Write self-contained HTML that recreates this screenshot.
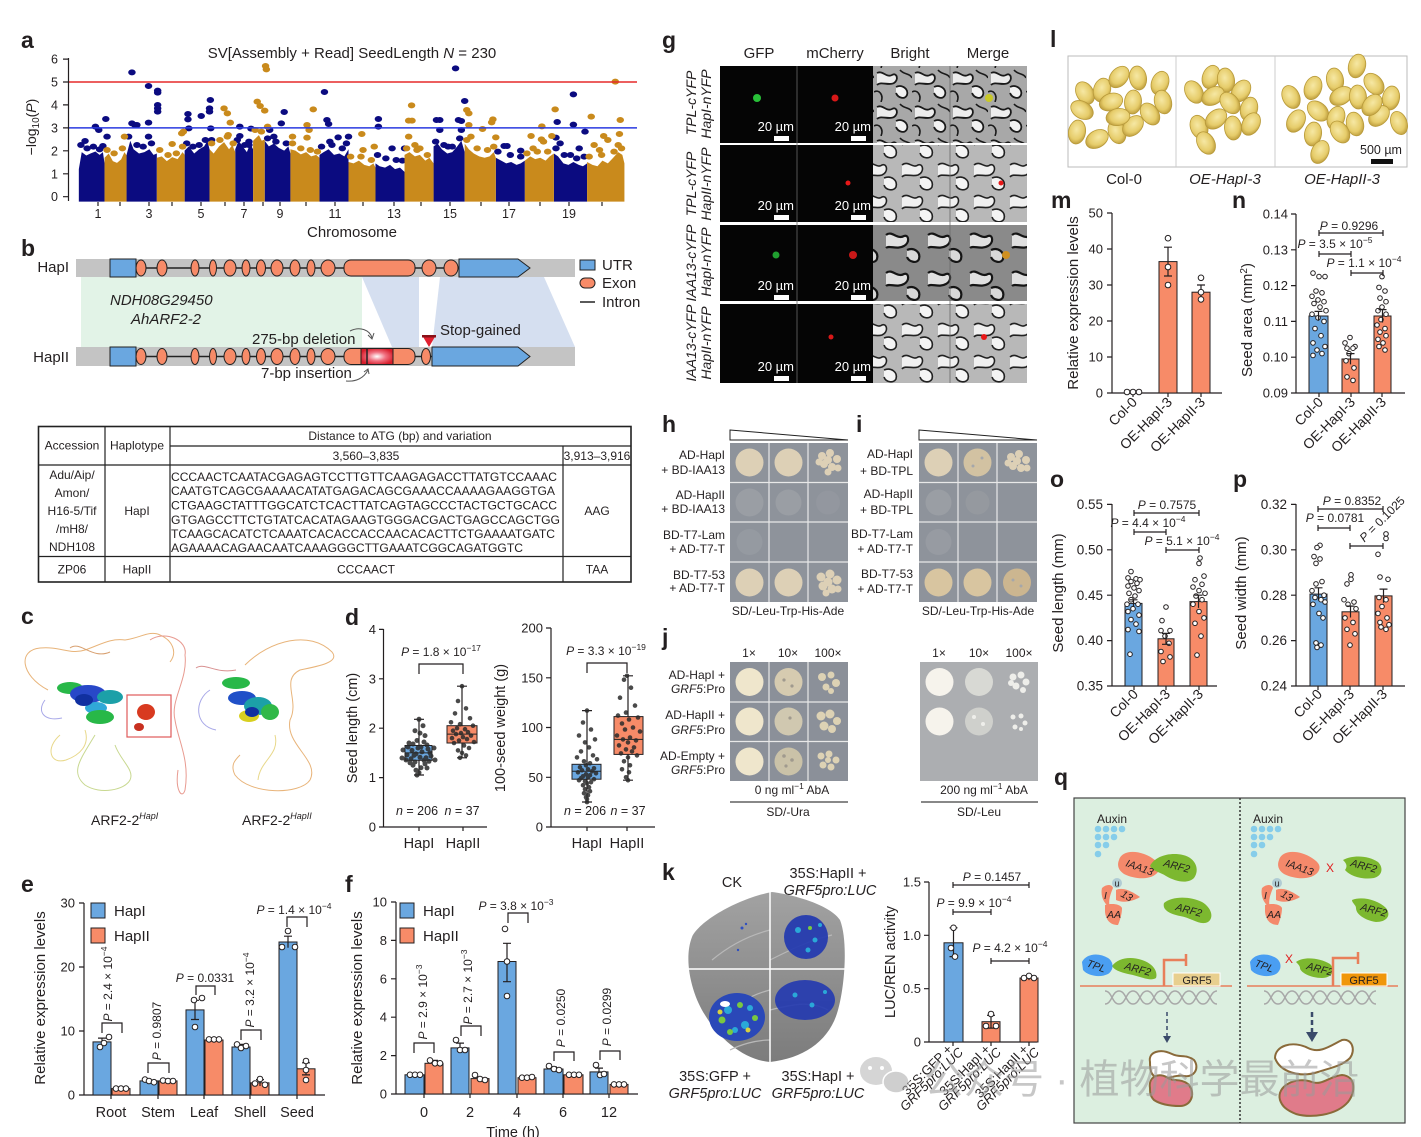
<!DOCTYPE html>
<html><head><meta charset="utf-8"><style>
html,body{margin:0;padding:0;background:#fff}
svg{display:block}
text{font-family:"Liberation Sans","Noto Sans CJK SC",sans-serif}
.L{font-size:23px;font-weight:bold}
.ax{stroke:#231f20;stroke-width:1.2;fill:none}
.pt{fill:#fff;stroke:#231f20;stroke-width:1}
.bb{fill:#6aa7e0;stroke:#231f20;stroke-width:1}
.ob{fill:#f78b68;stroke:#231f20;stroke-width:1}
.dk{fill:#2b2b2b;opacity:.85}
.it{font-style:italic}
</style></head><body>
<svg width="1421" height="1137" viewBox="0 0 1421 1137" xmlns="http://www.w3.org/2000/svg" fill="#231f20">
<defs>
<pattern id="pc" width="38" height="34" patternUnits="userSpaceOnUse">
<rect width="38" height="34" fill="#a8a8a8"/>
<path d="M3,5 C9,2 12,10 18,7 C23,4 25,12 20,15 C15,18 7,13 3,17 Z" fill="#ececec"/>
<path d="M22,19 C28,16 35,21 33,27 C31,32 24,30 22,25 Z" fill="#f2f2f2"/>
<path d="M3,5 C9,2 12,10 18,7 C23,4 25,12 20,15 C15,18 7,13 3,17 M22,19 C28,16 35,21 33,27 C31,32 24,30 22,25" fill="none" stroke="#1a1a1a" stroke-width="1.8"/>
<path d="M0,24 C5,21 10,27 7,34 M26,2 C30,7 36,5 38,10" fill="none" stroke="#1a1a1a" stroke-width="1.6"/>
</pattern>
<pattern id="pc2" width="42" height="38" patternUnits="userSpaceOnUse">
<rect width="42" height="38" fill="#8a8a8a"/>
<path d="M4,7 C10,2 15,12 22,8 C27,6 28,15 22,18 C15,22 7,17 4,20 Z" fill="#e0e0e0"/>
<path d="M25,22 C32,19 39,24 37,31 C35,36 27,34 25,29 Z" fill="#d8d8d8"/>
<path d="M4,7 C10,2 15,12 22,8 C27,6 28,15 22,18 C15,22 7,17 4,20 M25,22 C32,19 39,24 37,31 C35,36 27,34 25,29" fill="none" stroke="#151515" stroke-width="2.2"/>
</pattern>
<pattern id="pc3" width="36" height="32" patternUnits="userSpaceOnUse">
<rect width="36" height="32" fill="#b8b8b8"/>
<path d="M2,5 C8,0 13,9 18,5 C23,3 25,12 18,15 C12,17 5,13 2,17 Z" fill="#f0f0f0"/>
<path d="M20,18 C27,15 34,20 32,27 C30,31 22,31 20,25 Z" fill="#f4f4f4"/>
<path d="M2,5 C8,0 13,9 18,5 C23,3 25,12 18,15 C12,17 5,13 2,17 M20,18 C27,15 34,20 32,27 C30,31 22,31 20,25" fill="none" stroke="#222" stroke-width="1.6"/>
</pattern>
<radialGradient id="sg" cx="45%" cy="40%" r="60%"><stop offset="0" stop-color="#f6e8a4"/><stop offset=".7" stop-color="#e6cc6a"/><stop offset="1" stop-color="#c0a040"/></radialGradient>
<radialGradient id="rg" cx="50%" cy="50%" r="55%"><stop offset="0" stop-color="#fff"/><stop offset=".5" stop-color="#f07080"/><stop offset="1" stop-color="#d81c2a"/></radialGradient>
<linearGradient id="lf" x1="0" y1="0" x2="0" y2="1"><stop offset="0" stop-color="#a2a2a2"/><stop offset="1" stop-color="#7c7c7c"/></linearGradient>
</defs>
<rect width="1421" height="1137" fill="#fff"/>

<!-- ============ PANEL A ============ -->
<text class="L" x="21" y="48">a</text>
<text x="352" y="58" font-size="15" text-anchor="middle">SV[Assembly + Read] SeedLength <tspan class="it">N</tspan> = 230</text>
<g transform="translate(0,30) scale(0.4149,0.3333)">
<g fill="#0b0b80">
<g transform="translate(0,515) scale(1,0.85) translate(0,-515)">
<polygon points="190,515 190,400 197,340 208,352 218,345 230,338 240,350 248,340 252,380 252,515"/>
<polygon points="305,515 305,350 314,300 322,330 335,345 348,340 360,330 370,350 378,345 378,515"/>
<polygon points="445,515 445,335 455,320 468,345 480,330 492,320 500,300 505,330 505,515"/>
<polygon points="567,515 567,330 575,300 585,320 595,340 603,310 610,330 610,515"/>
<polygon points="638,515 638,300 648,320 660,310 672,325 685,335 695,320 700,345 700,515"/>
<polygon points="770,515 770,350 780,340 792,330 805,350 818,345 830,355 840,330 840,515"/>
<polygon points="905,515 905,380 915,390 928,395 940,385 952,400 964,395 975,410 975,515"/>
<polygon points="1045,515 1045,320 1055,310 1065,330 1078,345 1090,340 1102,320 1112,300 1120,340 1120,515"/>
<polygon points="1195,515 1195,360 1208,370 1220,380 1232,375 1245,385 1255,380 1265,370 1265,515"/>
<polygon points="1335,515 1335,345 1345,355 1358,380 1370,385 1382,375 1395,385 1405,390 1415,380 1415,515"/>
</g>
<circle cx="195" cy="345" r="9"/><circle cx="210" cy="355" r="9"/><circle cx="225" cy="350" r="9"/><circle cx="240" cy="358" r="9"/><circle cx="248" cy="348" r="9"/>
<circle cx="310" cy="320" r="9"/><circle cx="330" cy="345" r="9"/><circle cx="345" cy="350" r="9"/><circle cx="365" cy="340" r="9"/>
<circle cx="450" cy="340" r="9"/><circle cx="465" cy="350" r="9"/><circle cx="480" cy="345" r="9"/><circle cx="495" cy="330" r="9"/>
<circle cx="572" cy="330" r="9"/><circle cx="590" cy="345" r="9"/><circle cx="600" cy="335" r="9"/>
<circle cx="645" cy="325" r="9"/><circle cx="665" cy="335" r="9"/><circle cx="690" cy="340" r="9"/>
<circle cx="775" cy="350" r="9"/><circle cx="800" cy="345" r="9"/><circle cx="825" cy="355" r="9"/><circle cx="835" cy="340" r="9"/>
<circle cx="910" cy="375" r="9"/><circle cx="930" cy="385" r="9"/><circle cx="955" cy="390" r="9"/><circle cx="970" cy="392" r="9"/>
<circle cx="1050" cy="335" r="9"/><circle cx="1070" cy="345" r="9"/><circle cx="1090" cy="350" r="9"/><circle cx="1108" cy="325" r="9"/>
<circle cx="1200" cy="365" r="9"/><circle cx="1230" cy="375" r="9"/><circle cx="1255" cy="380" r="9"/>
<circle cx="1340" cy="355" r="9"/><circle cx="1360" cy="375" r="9"/><circle cx="1390" cy="385" r="9"/><circle cx="1408" cy="380" r="9"/>
<circle cx="205" cy="333" r="9"/><circle cx="230" cy="290" r="9"/><circle cx="238" cy="300" r="9"/><circle cx="255" cy="267" r="9"/><circle cx="258" cy="320" r="9"/>
<circle cx="318" cy="127" r="9"/><circle cx="318" cy="280" r="9"/><circle cx="325" cy="285" r="9"/><circle cx="330" cy="285" r="9"/><circle cx="358" cy="168" r="9"/><circle cx="358" cy="278" r="9"/><circle cx="358" cy="320" r="9"/><circle cx="380" cy="182" r="9"/><circle cx="380" cy="188" r="9"/><circle cx="380" cy="225" r="9"/><circle cx="380" cy="235" r="9"/><circle cx="380" cy="245" r="9"/>
<circle cx="453" cy="252" r="9"/><circle cx="453" cy="268" r="9"/><circle cx="455" cy="295" r="9"/><circle cx="485" cy="258" r="9"/><circle cx="507" cy="210" r="9"/><circle cx="505" cy="235" r="9"/><circle cx="505" cy="245" r="9"/><circle cx="508" cy="295" r="9"/><circle cx="510" cy="330" r="9"/>
<circle cx="578" cy="290" r="9"/><circle cx="578" cy="318" r="9"/><circle cx="605" cy="296" r="9"/><circle cx="600" cy="345" r="9"/>
<circle cx="650" cy="300" r="9"/><circle cx="678" cy="280" r="9"/><circle cx="685" cy="246" r="9"/><circle cx="660" cy="320" r="9"/>
<circle cx="782" cy="186" r="9"/><circle cx="788" cy="270" r="9"/><circle cx="792" cy="282" r="9"/><circle cx="795" cy="335" r="9"/><circle cx="815" cy="322" r="9"/><circle cx="840" cy="320" r="9"/>
<circle cx="912" cy="267" r="9"/><circle cx="912" cy="290" r="9"/><circle cx="945" cy="355" r="9"/><circle cx="975" cy="355" r="9"/>
<circle cx="1052" cy="270" r="9"/><circle cx="1060" cy="270" r="9"/><circle cx="1060" cy="300" r="9"/><circle cx="1080" cy="350" r="9"/><circle cx="1098" cy="115" r="9"/><circle cx="1105" cy="270" r="9"/><circle cx="1112" cy="273" r="9"/><circle cx="1120" cy="213" r="9"/><circle cx="1112" cy="300" r="9"/>
<circle cx="1215" cy="348" r="9"/><circle cx="1222" cy="348" r="9"/><circle cx="1255" cy="362" r="9"/>
<circle cx="1343" cy="276" r="9"/><circle cx="1340" cy="323" r="9"/><circle cx="1350" cy="340" r="9"/><circle cx="1382" cy="193" r="9"/><circle cx="1382" cy="284" r="9"/><circle cx="1396" cy="355" r="9"/><circle cx="1410" cy="305" r="9"/><circle cx="1375" cy="375" r="9"/>
</g>
<g fill="#c98a1c">
<g transform="translate(0,515) scale(1,0.85) translate(0,-515)">
<polygon points="252,515 252,360 262,345 272,372 282,378 292,366 300,340 305,352 305,515"/>
<polygon points="378,515 378,360 390,355 402,372 415,358 428,365 440,340 445,350 445,515"/>
<polygon points="505,515 505,330 515,345 528,320 540,305 552,330 560,315 567,340 567,515"/>
<polygon points="610,515 610,300 617,290 624,280 631,300 638,295 638,515"/>
<polygon points="700,515 700,330 712,335 725,348 738,340 750,355 762,350 770,360 770,515"/>
<polygon points="840,515 840,375 852,380 865,370 878,385 890,390 900,380 905,395 905,515"/>
<polygon points="975,515 975,350 987,340 1000,355 1012,350 1025,370 1035,360 1045,380 1045,515"/>
<polygon points="1120,515 1120,310 1130,330 1142,345 1155,355 1168,360 1180,355 1190,340 1195,360 1195,515"/>
<polygon points="1265,515 1265,370 1278,355 1290,365 1302,360 1315,370 1325,355 1335,345 1335,515"/>
<polygon points="1415,515 1415,375 1428,385 1440,390 1452,370 1465,380 1478,360 1490,340 1500,350 1505,380 1505,515"/>
</g>
<circle cx="258" cy="360" r="9"/><circle cx="275" cy="370" r="9"/><circle cx="295" cy="355" r="9"/>
<circle cx="385" cy="360" r="9"/><circle cx="405" cy="375" r="9"/><circle cx="425" cy="370" r="9"/><circle cx="440" cy="350" r="9"/>
<circle cx="510" cy="340" r="9"/><circle cx="530" cy="330" r="9"/><circle cx="548" cy="320" r="9"/><circle cx="562" cy="340" r="9"/>
<circle cx="615" cy="300" r="9"/><circle cx="630" cy="305" r="9"/>
<circle cx="705" cy="340" r="9"/><circle cx="725" cy="355" r="9"/><circle cx="748" cy="360" r="9"/><circle cx="765" cy="365" r="9"/>
<circle cx="845" cy="380" r="9"/><circle cx="870" cy="380" r="9"/><circle cx="895" cy="390" r="9"/>
<circle cx="980" cy="355" r="9"/><circle cx="1005" cy="360" r="9"/><circle cx="1030" cy="375" r="9"/>
<circle cx="1125" cy="330" r="9"/><circle cx="1150" cy="355" r="9"/><circle cx="1175" cy="360" r="9"/><circle cx="1190" cy="350" r="9"/>
<circle cx="1270" cy="370" r="9"/><circle cx="1295" cy="365" r="9"/><circle cx="1320" cy="365" r="9"/>
<circle cx="1420" cy="380" r="9"/><circle cx="1450" cy="375" r="9"/><circle cx="1480" cy="365" r="9"/><circle cx="1498" cy="355" r="9"/>
<circle cx="300" cy="320" r="9"/><circle cx="415" cy="342" r="9"/><circle cx="438" cy="310" r="9"/><circle cx="442" cy="305" r="9"/>
<circle cx="540" cy="235" r="9"/><circle cx="548" cy="250" r="9"/><circle cx="555" cy="278" r="9"/><circle cx="550" cy="315" r="9"/>
<circle cx="620" cy="215" r="9"/><circle cx="627" cy="228" r="9"/><circle cx="638" cy="242" r="9"/><circle cx="640" cy="108" r="9"/><circle cx="642" cy="118" r="9"/><circle cx="645" cy="290" r="9"/>
<circle cx="705" cy="320" r="9"/><circle cx="740" cy="285" r="9"/><circle cx="745" cy="300" r="9"/><circle cx="740" cy="323" r="9"/><circle cx="755" cy="238" r="9"/>
<circle cx="872" cy="312" r="9"/><circle cx="875" cy="360" r="9"/><circle cx="902" cy="350" r="9"/>
<circle cx="992" cy="226" r="9"/><circle cx="985" cy="272" r="9"/><circle cx="993" cy="272" r="9"/><circle cx="985" cy="320" r="9"/><circle cx="1000" cy="345" r="9"/><circle cx="1012" cy="355" r="9"/>
<circle cx="1125" cy="240" r="9"/><circle cx="1130" cy="250" r="9"/><circle cx="1130" cy="285" r="9"/><circle cx="1135" cy="320" r="9"/><circle cx="1163" cy="297" r="9"/><circle cx="1188" cy="268" r="9"/><circle cx="1185" cy="277" r="9"/><circle cx="1195" cy="322" r="9"/>
<circle cx="1280" cy="318" r="9"/><circle cx="1285" cy="355" r="9"/><circle cx="1306" cy="289" r="9"/><circle cx="1305" cy="328" r="9"/><circle cx="1310" cy="335" r="9"/><circle cx="1330" cy="318" r="9"/><circle cx="1338" cy="238" r="9"/>
<circle cx="1425" cy="260" r="9"/><circle cx="1432" cy="345" r="9"/><circle cx="1445" cy="360" r="9"/><circle cx="1455" cy="318" r="9"/><circle cx="1465" cy="330" r="9"/><circle cx="1483" cy="155" r="9"/><circle cx="1495" cy="270" r="9"/><circle cx="1493" cy="312" r="9"/><circle cx="1490" cy="345" r="9"/>
</g>
</g>
<line x1="68.5" y1="82" x2="637" y2="82" stroke="#e62a2a" stroke-width="1.5"/>
<line x1="68.5" y1="127.9" x2="637" y2="127.9" stroke="#2a3ae0" stroke-width="1.5"/>
<path class="ax" d="M68.5,58 V201 M63,59.1 H68.5 M63,82 H68.5 M63,104.9 H68.5 M63,127.9 H68.5 M63,150.8 H68.5 M63,173.8 H68.5 M63,196.7 H68.5"/>
<path class="ax" stroke-width="1" d="M98,202 v4 M120,202 v4 M149,202 v4 M172,202 v4 M201,202 v4 M225,202 v4 M244,202 v4 M263,202 v4 M280,202 v4 M306,202 v4 M335,202 v4 M363,202 v4 M394,202 v4 M421,202 v4 M450,202 v4 M481,202 v4 M509,202 v4 M540,202 v4 M569,202 v4 M602,202 v4"/>
<g font-size="12.5" text-anchor="end">
<text x="58" y="63.5">6</text><text x="58" y="86.5">5</text><text x="58" y="109.4">4</text><text x="58" y="132.4">3</text><text x="58" y="155.3">2</text><text x="58" y="178.3">1</text><text x="58" y="201.2">0</text>
</g>
<text transform="translate(36,127) rotate(-90)" font-size="14" text-anchor="middle">−log<tspan font-size="10" dy="3">10</tspan><tspan dy="-3">(</tspan><tspan class="it">P</tspan>)</text>
<g font-size="12.5" text-anchor="middle">
<text x="98" y="218">1</text><text x="149" y="218">3</text><text x="201" y="218">5</text><text x="244" y="218">7</text><text x="280" y="218">9</text><text x="335" y="218">11</text><text x="394" y="218">13</text><text x="450" y="218">15</text><text x="509" y="218">17</text><text x="569" y="218">19</text>
</g>
<text x="352" y="237" font-size="15" text-anchor="middle">Chromosome</text>

<!-- ============ PANEL B ============ -->
<text class="L" x="21" y="256">b</text>
<rect x="81" y="277" width="281" height="70" fill="#e2f3e7"/>
<polygon points="362,277 419,277 419,347 392,347" fill="#d5dff0"/>
<polygon points="440,277 544,277 575,347 432,347" fill="#d5dff0"/>
<rect x="76" y="259" width="499" height="18" fill="#c4c4c4"/>
<rect x="76" y="347" width="499" height="19" fill="#c4c4c4"/>
<g stroke="#222" stroke-width="1">
<line x1="136" y1="268" x2="459" y2="268" stroke-width="1.5"/>
<line x1="136" y1="356.5" x2="432" y2="356.5" stroke-width="1.5"/>
<rect x="110" y="259" width="26" height="18" fill="#6aa7e0"/>
<rect x="110" y="347" width="26" height="19" fill="#6aa7e0"/>
<polygon points="459,259 518,259 530,268 518,277 459,277" fill="#6aa7e0"/>
<polygon points="432,347 518,347 530,356.5 518,366 432,366" fill="#6aa7e0"/>
<g fill="#f78b68">
<ellipse cx="141" cy="268" rx="5" ry="8"/><ellipse cx="162" cy="268" rx="5" ry="8"/><ellipse cx="195" cy="268" rx="4" ry="8"/><ellipse cx="213" cy="268" rx="3.5" ry="8"/><ellipse cx="230" cy="268" rx="6" ry="8"/><ellipse cx="246" cy="268" rx="4" ry="8"/><ellipse cx="261" cy="268" rx="4.5" ry="8"/><ellipse cx="277" cy="268" rx="6" ry="8"/><ellipse cx="295" cy="268" rx="5" ry="8"/><ellipse cx="311" cy="268" rx="4" ry="8"/><ellipse cx="328" cy="268" rx="7" ry="8"/>
<rect x="344" y="260" width="71" height="16" rx="7"/><ellipse cx="429" cy="268" rx="7" ry="8"/><ellipse cx="451" cy="268" rx="7" ry="8"/>
<ellipse cx="141" cy="356.5" rx="5" ry="8"/><ellipse cx="162" cy="356.5" rx="5" ry="8"/><ellipse cx="195" cy="356.5" rx="4" ry="8"/><ellipse cx="213" cy="356.5" rx="3.5" ry="8"/><ellipse cx="230" cy="356.5" rx="6" ry="8"/><ellipse cx="246" cy="356.5" rx="4" ry="8"/><ellipse cx="261" cy="356.5" rx="4.5" ry="8"/><ellipse cx="277" cy="356.5" rx="6" ry="8"/><ellipse cx="295" cy="356.5" rx="5" ry="8"/><ellipse cx="311" cy="356.5" rx="4" ry="8"/><ellipse cx="328" cy="356.5" rx="7" ry="8"/>
<rect x="344" y="348.5" width="71" height="16" rx="7"/><ellipse cx="426" cy="356.5" rx="4.5" ry="8"/>
</g>
<rect x="361" y="348.5" width="32" height="16" fill="url(#rg)"/>
<line x1="367" y1="348.5" x2="367" y2="364.5" stroke-width="1.5"/>
</g>
<polygon points="422,335 436,335 429,347" fill="#e02030"/>
<rect x="422" y="335" width="14" height="2.5" fill="#8a1018"/>
<path d="M350,331 C360,326 370,330 372,338" fill="none" stroke="#555" stroke-width="1"/>
<path d="M368,335 L372,339 L374,333" fill="none" stroke="#555" stroke-width="1"/>
<path d="M346,381 C356,382 364,378 368,370" fill="none" stroke="#555" stroke-width="1"/>
<path d="M364,372 L368,369 L369,374" fill="none" stroke="#555" stroke-width="1"/>
<g font-size="15">
<text x="69" y="272" text-anchor="end">HapI</text>
<text x="69" y="362" text-anchor="end">HapII</text>
<text x="110" y="305" class="it">NDH08G29450</text>
<text x="131" y="324" class="it">AhARF2-2</text>
<text x="252" y="344">275-bp deletion</text>
<text x="440" y="335">Stop-gained</text>
<text x="261" y="378">7-bp insertion</text>
<text x="602" y="270">UTR</text><text x="602" y="288">Exon</text><text x="602" y="307">Intron</text>
</g>
<rect x="580" y="260" width="15" height="10" fill="#6aa7e0" stroke="#222"/>
<rect x="580" y="278" width="15" height="10" rx="5" fill="#f78b68" stroke="#222"/>
<line x1="580" y1="302" x2="595" y2="302" stroke="#222" stroke-width="1.5"/>

<!-- table -->
<g stroke="#222" fill="none" stroke-width="1.2">
<rect x="38.5" y="426.5" width="592.5" height="155.5" stroke-width="1.6"/>
<path d="M105,426.5 V582 M170,426.5 V582 M563,446 V582 M170,446 H631 M38.5,465 H631 M38.5,556.5 H631"/>
</g>
<g font-size="12" text-anchor="middle">
<text x="72" y="449.5">Accession</text><text x="137" y="449.5">Haplotype</text>
<text x="400" y="440">Distance to ATG (bp) and variation</text>
<text x="366" y="460">3,560–3,835</text><text x="597" y="460">3,913–3,916</text>
<text x="72" y="479">Adu/Aip/</text><text x="72" y="497">Amon/</text><text x="72" y="515">H16-5/Tif</text><text x="72" y="533">/mH8/</text><text x="72" y="551">NDH108</text>
<text x="137" y="515">HapI</text><text x="597" y="515">AAG</text>
<text x="72" y="573.5">ZP06</text><text x="137" y="573.5">HapII</text><text x="366" y="573.5">CCCAACT</text><text x="597" y="573.5">TAA</text>
</g>
<g font-size="12">
<text x="171" y="481" textLength="386" lengthAdjust="spacingAndGlyphs">CCCAACTCAATACGAGAGTCCTTGTTCAAGAGACCTTATGTCCAAAC</text>
<text x="171" y="495" textLength="384" lengthAdjust="spacingAndGlyphs">CAATGTCAGCGAAAACATATGAGACAGCGAAACCAAAAGAAGGTGA</text>
<text x="171" y="509.5" textLength="386" lengthAdjust="spacingAndGlyphs">CTGAAGCTATTTGGCATCTCACTTATCAGTAGCCCTACTGCTGCACC</text>
<text x="171" y="524" textLength="389" lengthAdjust="spacingAndGlyphs">GTGAGCCTTCTGTATCACATAGAAGTGGGACGACTGAGCCAGCTGG</text>
<text x="171" y="538" textLength="384" lengthAdjust="spacingAndGlyphs">TCAAGCACATCTCAAATCACACCACCAACACACTTCTGAAAATGATC</text>
<text x="171" y="552" textLength="352" lengthAdjust="spacingAndGlyphs">AGAAAACAGAACAATCAAAGGGCTTGAAATCGGCAGATGGTC</text>
</g>

<!-- ============ PANEL C ============ -->
<text class="L" x="21" y="624">c</text>
<g fill="none" stroke-width="1">
<path d="M48,690 C20,675 18,650 40,648 C60,646 70,655 85,650 C100,645 110,638 125,640 C140,638 150,630 160,635 C172,640 178,652 170,662" stroke="#e8b47a"/>
<path d="M150,640 C165,630 188,640 185,655 C188,680 170,700 175,720 C178,740 190,760 185,790 C182,800 175,790 178,770" stroke="#e89a90"/>
<path d="M95,735 C80,760 70,772 85,785 C100,795 125,790 130,780 C135,770 120,760 115,745" stroke="#c8d890"/>
<path d="M60,735 C45,748 50,765 66,760 C80,755 90,745 85,730" stroke="#e8d88a"/>
<path d="M45,700 C36,712 45,722 62,718" stroke="#a8a8e8"/>
<path d="M70,648 C80,640 92,660 110,652" stroke="#d8a070"/>
<path d="M196,668 C205,662 215,674 236,670" stroke="#d89090"/>
<path d="M245,665 C270,640 310,630 332,652 C340,662 320,666 300,670 C280,680 300,700 290,720 C285,745 320,760 310,780 C300,795 250,795 235,775 C230,765 235,760 240,755" stroke="#e8b47a"/>
<path d="M210,690 C194,700 194,726 216,730" stroke="#a8a8e8"/>
<path d="M275,735 C280,755 260,760 258,780" stroke="#e8d88a"/>
</g>
<ellipse cx="70" cy="688" rx="13" ry="6" fill="#28b848"/>
<ellipse cx="88" cy="694" rx="18" ry="9" fill="#2848c8"/>
<ellipse cx="110" cy="697" rx="13" ry="7" fill="#1ca0a8"/>
<ellipse cx="96" cy="708" rx="11" ry="6" fill="#30a8d8"/>
<ellipse cx="100" cy="717" rx="14" ry="7" fill="#28b848"/>
<ellipse cx="84" cy="700" rx="9" ry="6" fill="#1030a0"/>
<rect x="127" y="695" width="44" height="42" fill="none" stroke="#e05a5a" stroke-width="1.2"/>
<ellipse cx="146" cy="712" rx="9" ry="8" fill="#d83a20"/>
<ellipse cx="139" cy="727" rx="5" ry="4" fill="#c83020"/>
<ellipse cx="236" cy="683" rx="14" ry="6" fill="#28b848"/>
<ellipse cx="242" cy="698" rx="14" ry="7" fill="#2050c8"/>
<ellipse cx="258" cy="706" rx="14" ry="9" fill="#1ca0a8"/>
<ellipse cx="249" cy="716" rx="10" ry="6" fill="#d8d020"/>
<ellipse cx="252" cy="712" rx="7" ry="5" fill="#1030a0"/>
<ellipse cx="270" cy="712" rx="9" ry="8" fill="#30b848"/>
<text x="91" y="825" font-size="14">ARF2-2<tspan font-size="9" dy="-6" class="it">HapI</tspan></text>
<text x="242" y="825" font-size="14">ARF2-2<tspan font-size="9" dy="-6" class="it">HapII</tspan></text>

<!-- ============ PANEL D ============ -->
<text class="L" x="345" y="625">d</text>
<path class="ax" d="M383.5,629 V827 H487 M379,629.4 H383.5 M379,678.8 H383.5 M379,728.2 H383.5 M379,777.6 H383.5 M379,827 H383.5 M419,827 v4 M463,827 v4"/>
<g font-size="13" text-anchor="end"><text x="376" y="633.9">4</text><text x="376" y="683.3">3</text><text x="376" y="732.7">2</text><text x="376" y="782.1">1</text><text x="376" y="831.5">0</text></g>
<text transform="translate(357,728) rotate(-90)" font-size="14.5" text-anchor="middle">Seed length (cm)</text>
<path class="ax" d="M419,674 V664 H463 V674"/>
<text x="441" y="656" font-size="12" text-anchor="middle"><tspan class="it">P</tspan> = 1.8 × 10<tspan font-size="8.5" dy="-5">−17</tspan></text>
<path class="ax" d="M419,775 V719 M414,775 H424 M414,719.3 H424"/>
<rect class="bb" x="405" y="745.5" width="27" height="14.8"/>
<line x1="405" y1="752.9" x2="432" y2="752.9" stroke="#222"/>
<g class="dk">
<circle cx="408" cy="747" r="2.5"/><circle cx="412" cy="750.4" r="2.5"/><circle cx="416" cy="753.9" r="2.5"/><circle cx="420" cy="757.3" r="2.5"/><circle cx="424" cy="760.3" r="2.5"/><circle cx="428" cy="749" r="2.5"/><circle cx="410" cy="762.8" r="2.5"/><circle cx="414" cy="755.4" r="2.5"/><circle cx="418" cy="748" r="2.5"/><circle cx="422" cy="751.9" r="2.5"/><circle cx="426" cy="757.8" r="2.5"/><circle cx="430" cy="752.9" r="2.5"/><circle cx="409" cy="743" r="2.5"/><circle cx="413" cy="765.2" r="2.5"/><circle cx="417" cy="740.5" r="2.5"/><circle cx="421" cy="767.7" r="2.5"/><circle cx="425" cy="735.6" r="2.5"/><circle cx="419" cy="772.7" r="2.5"/><circle cx="415" cy="730.7" r="2.5"/><circle cx="423" cy="725.7" r="2.5"/><circle cx="419" cy="719.3" r="2.5"/><circle cx="417" cy="775.1" r="2.5"/><circle cx="411" cy="758.8" r="2.5"/><circle cx="427" cy="745" r="2.5"/><circle cx="407" cy="754.9" r="2.5"/><circle cx="429" cy="761.3" r="2.5"/><circle cx="413" cy="744" r="2.5"/><circle cx="421" cy="747" r="2.5"/><circle cx="425" cy="763.8" r="2.5"/><circle cx="416" cy="770.2" r="2.5"/><circle cx="420" cy="733.1" r="2.5"/><circle cx="424" cy="742" r="2.5"/><circle cx="406" cy="760" r="2.5"/><circle cx="431" cy="756" r="2.5"/><circle cx="415" cy="762" r="2.5"/><circle cx="427" cy="768" r="2.5"/><circle cx="403" cy="750" r="2.5"/><circle cx="434" cy="748" r="2.5"/><circle cx="402" cy="758" r="2.5"/><circle cx="435" cy="760" r="2.5"/>
</g>
<path class="ax" d="M462,757.8 V686.2 M457,757.8 H467 M457,686.2 H467"/>
<rect class="ob" x="447" y="725.7" width="30" height="17.3"/>
<line x1="447" y1="734.1" x2="477" y2="734.1" stroke="#222"/>
<g class="dk">
<circle cx="462" cy="686.2" r="2.3"/><circle cx="458" cy="701" r="2.3"/><circle cx="466" cy="708.4" r="2.3"/><circle cx="455" cy="713.4" r="2.3"/><circle cx="470" cy="718.3" r="2.3"/><circle cx="451" cy="722.3" r="2.3"/><circle cx="460" cy="724.2" r="2.3"/><circle cx="473" cy="725.7" r="2.3"/><circle cx="457" cy="728.2" r="2.3"/><circle cx="465" cy="729.2" r="2.3"/><circle cx="453" cy="730.7" r="2.3"/><circle cx="468" cy="732.2" r="2.3"/><circle cx="461" cy="733.1" r="2.3"/><circle cx="456" cy="734.1" r="2.3"/><circle cx="471" cy="735.6" r="2.3"/><circle cx="463" cy="737.1" r="2.3"/><circle cx="452" cy="738.1" r="2.3"/><circle cx="467" cy="739.1" r="2.3"/><circle cx="459" cy="740.5" r="2.3"/><circle cx="474" cy="742" r="2.3"/><circle cx="454" cy="743" r="2.3"/><circle cx="464" cy="745.5" r="2.3"/><circle cx="469" cy="748" r="2.3"/><circle cx="458" cy="750.4" r="2.3"/><circle cx="462" cy="752.9" r="2.3"/><circle cx="466" cy="755.4" r="2.3"/><circle cx="460" cy="757.8" r="2.3"/>
</g>
<g font-size="12.5" text-anchor="middle"><text x="417" y="815"><tspan class="it">n</tspan> = 206</text><text x="462" y="815"><tspan class="it">n</tspan> = 37</text>
<text x="585" y="815"><tspan class="it">n</tspan> = 206</text><text x="628" y="815"><tspan class="it">n</tspan> = 37</text></g>
<g font-size="14.5" text-anchor="middle"><text x="419" y="848">HapI</text><text x="463" y="848">HapII</text><text x="587" y="848">HapI</text><text x="627" y="848">HapII</text></g>
<path class="ax" d="M551,628 V827 H655 M546,628 H551 M546,677.8 H551 M546,727.5 H551 M546,777.3 H551 M546,827 H551 M587,827 v4 M627,827 v4"/>
<g font-size="13" text-anchor="end"><text x="543" y="632.5">200</text><text x="543" y="682.3">150</text><text x="543" y="732">100</text><text x="543" y="781.8">50</text><text x="543" y="831.5">0</text></g>
<text transform="translate(505,728) rotate(-90)" font-size="14.5" text-anchor="middle">100-seed weight (g)</text>
<path class="ax" d="M587,673 V663 H627 V673"/>
<text x="606" y="655" font-size="12" text-anchor="middle"><tspan class="it">P</tspan> = 3.3 × 10<tspan font-size="8.5" dy="-5">−19</tspan></text>
<path class="ax" d="M587,802 V710.6 M582,802 H592 M582,710.6 H592"/>
<rect class="bb" x="572" y="764.3" width="29" height="14.9"/>
<line x1="572" y1="771.3" x2="601" y2="771.3" stroke="#222"/>
<g class="dk">
<circle cx="587" cy="710.6" r="2.3"/><circle cx="583" cy="722.5" r="2.3"/><circle cx="591" cy="729.5" r="2.3"/><circle cx="579" cy="735.5" r="2.3"/><circle cx="595" cy="739.4" r="2.3"/><circle cx="585" cy="742.4" r="2.3"/><circle cx="589" cy="747.4" r="2.3"/><circle cx="581" cy="751.4" r="2.3"/><circle cx="593" cy="755.4" r="2.3"/><circle cx="577" cy="757.4" r="2.3"/><circle cx="597" cy="759.3" r="2.3"/><circle cx="584" cy="761.3" r="2.3"/><circle cx="590" cy="763.3" r="2.3"/><circle cx="586" cy="765.3" r="2.3"/><circle cx="580" cy="767.3" r="2.3"/><circle cx="594" cy="768.3" r="2.3"/><circle cx="588" cy="769.3" r="2.3"/><circle cx="582" cy="770.3" r="2.3"/><circle cx="592" cy="771.3" r="2.3"/><circle cx="578" cy="772.3" r="2.3"/><circle cx="596" cy="773.3" r="2.3"/><circle cx="586" cy="774.3" r="2.3"/><circle cx="590" cy="775.3" r="2.3"/><circle cx="583" cy="776.3" r="2.3"/><circle cx="588" cy="777.3" r="2.3"/><circle cx="581" cy="778.2" r="2.3"/><circle cx="594" cy="779.2" r="2.3"/><circle cx="579" cy="780.2" r="2.3"/><circle cx="585" cy="781.2" r="2.3"/><circle cx="591" cy="782.2" r="2.3"/><circle cx="587" cy="783.2" r="2.3"/><circle cx="583" cy="785.2" r="2.3"/><circle cx="589" cy="787.2" r="2.3"/><circle cx="585" cy="789.2" r="2.3"/><circle cx="590" cy="791.2" r="2.3"/><circle cx="584" cy="793.2" r="2.3"/><circle cx="588" cy="795.2" r="2.3"/><circle cx="586" cy="797.2" r="2.3"/><circle cx="587" cy="799.1" r="2.3"/><circle cx="587" cy="802.1" r="2.3"/>
</g>
<path class="ax" d="M628,780.2 V675.8 M623,780.2 H633 M623,675.8 H633"/>
<rect class="ob" x="614" y="716.6" width="29" height="37.8"/>
<line x1="614" y1="739.4" x2="643" y2="739.4" stroke="#222"/>
<g class="dk">
<circle cx="627" cy="675.8" r="2.3"/><circle cx="624" cy="679.7" r="2.3"/><circle cx="631" cy="687.7" r="2.3"/><circle cx="620" cy="697.7" r="2.3"/><circle cx="635" cy="705.6" r="2.3"/><circle cx="626" cy="712.6" r="2.3"/><circle cx="618" cy="715.6" r="2.3"/><circle cx="638" cy="717.5" r="2.3"/><circle cx="629" cy="719.5" r="2.3"/><circle cx="622" cy="723.5" r="2.3"/><circle cx="633" cy="727.5" r="2.3"/><circle cx="625" cy="729.5" r="2.3"/><circle cx="640" cy="731.5" r="2.3"/><circle cx="617" cy="735.5" r="2.3"/><circle cx="630" cy="737.5" r="2.3"/><circle cx="623" cy="739.4" r="2.3"/><circle cx="636" cy="740.4" r="2.3"/><circle cx="628" cy="742.4" r="2.3"/><circle cx="619" cy="745.4" r="2.3"/><circle cx="634" cy="747.4" r="2.3"/><circle cx="626" cy="749.4" r="2.3"/><circle cx="632" cy="751.4" r="2.3"/><circle cx="621" cy="753.4" r="2.3"/><circle cx="637" cy="755.4" r="2.3"/><circle cx="628" cy="757.4" r="2.3"/><circle cx="624" cy="761.3" r="2.3"/><circle cx="630" cy="765.3" r="2.3"/><circle cx="622" cy="769.3" r="2.3"/><circle cx="629" cy="772.3" r="2.3"/><circle cx="626" cy="777.3" r="2.3"/><circle cx="628" cy="780.2" r="2.3"/>
</g>

<!-- ============ PANEL E ============ -->
<text class="L" x="21" y="892">e</text>
<path class="ax" d="M84,903 V1095 H325 M79,903 H84 M79,967 H84 M79,1031 H84 M79,1095 H84 M111,1095 v4 M158,1095 v4 M204,1095 v4 M250,1095 v4 M297,1095 v4"/>
<g font-size="13" text-anchor="end"><text x="75" y="907.5">30</text><text x="75" y="971.5">20</text><text x="75" y="1035.5">10</text><text x="75" y="1099.5">0</text></g>
<text transform="translate(45,998) rotate(-90)" font-size="15" text-anchor="middle">Relative expression levels</text>
<rect class="bb" x="93" y="1041.9" width="18" height="53.1"/><rect class="ob" x="112" y="1088.6" width="18" height="6.4"/>
<rect class="bb" x="140" y="1080.9" width="18" height="14.1"/><rect class="ob" x="159" y="1080.9" width="18" height="14.1"/>
<rect class="bb" x="186" y="1009.9" width="18" height="85.1"/><rect class="ob" x="205" y="1040" width="18" height="55"/>
<rect class="bb" x="232" y="1047" width="18" height="48"/><rect class="ob" x="251" y="1082.8" width="18" height="12.2"/>
<rect class="bb" x="279" y="942" width="18" height="153"/><rect class="ob" x="297" y="1068.8" width="18" height="26.2"/>
<path class="ax" d="M102,1038.1 V1045.7 M98,1038.1 H106 M195,1000.3 V1019.5 M191,1000.3 H199 M191,1019.5 H199 M241,1044.4 V1049.6 M237,1044.4 H245 M260,1079.6 V1086 M256,1079.6 H264 M288,936.2 V947.8 M284,936.2 H292 M306,1062.8 V1074.9 M302,1062.8 H310 M302,1074.9 H310"/>
<g class="pt">
<circle cx="100" cy="1047" r="2.8"/><circle cx="104" cy="1043" r="2.8"/><circle cx="109" cy="1037" r="2.8"/>
<circle cx="116" cy="1088.6" r="2.8"/><circle cx="121" cy="1088.6" r="2.8"/><circle cx="126" cy="1088.6" r="2.8"/>
<circle cx="145" cy="1079.6" r="2.8"/><circle cx="149" cy="1081" r="2.8"/><circle cx="154" cy="1082.2" r="2.8"/>
<circle cx="163" cy="1080.5" r="2.8"/><circle cx="168" cy="1081" r="2.8"/><circle cx="173" cy="1081" r="2.8"/>
<circle cx="195" cy="1027" r="2.8"/><circle cx="194" cy="1000" r="2.8"/><circle cx="202" cy="998" r="2.8"/>
<circle cx="209" cy="1039.4" r="2.8"/><circle cx="214" cy="1039.4" r="2.8"/><circle cx="219" cy="1039.4" r="2.8"/>
<circle cx="237" cy="1044.4" r="2.8"/><circle cx="241" cy="1048" r="2.8"/><circle cx="246" cy="1046" r="2.8"/>
<circle cx="255" cy="1083.5" r="2.8"/><circle cx="260" cy="1079" r="2.8"/><circle cx="265" cy="1084.8" r="2.8"/>
<circle cx="288" cy="931" r="2.8"/><circle cx="282" cy="947" r="2.8"/><circle cx="295" cy="947" r="2.8"/>
<circle cx="306" cy="1061" r="2.8"/><circle cx="306" cy="1070" r="2.8"/><circle cx="306" cy="1080" r="2.8"/>
</g>
<path class="ax" d="M102,1033 V1023 H122 V1033 M148,1073 V1063 H169 V1073 M196,995 V986 H215 V995 M241,1040 V1030 H261 V1040 M287,927 V917 H307 V927"/>
<g font-size="12">
<text transform="translate(112,984) rotate(-90)" text-anchor="middle"><tspan class="it">P</tspan> = 2.4 × 10<tspan font-size="8.5" dy="-5">−4</tspan></text>
<text transform="translate(161,1031) rotate(-90)" text-anchor="middle"><tspan class="it">P</tspan> = 0.9807</text>
<text x="205" y="982" text-anchor="middle"><tspan class="it">P</tspan> = 0.0331</text>
<text transform="translate(254,990) rotate(-90)" text-anchor="middle"><tspan class="it">P</tspan> = 3.2 × 10<tspan font-size="8.5" dy="-5">−4</tspan></text>
<text x="294" y="914" text-anchor="middle"><tspan class="it">P</tspan> = 1.4 × 10<tspan font-size="8.5" dy="-5">−4</tspan></text>
</g>
<rect class="bb" x="91" y="903" width="14" height="15"/><rect class="ob" x="91" y="928" width="14" height="15"/>
<text x="114" y="916" font-size="15">HapI</text><text x="114" y="941" font-size="15">HapII</text>
<g font-size="14.5" text-anchor="middle"><text x="111" y="1117">Root</text><text x="158" y="1117">Stem</text><text x="204" y="1117">Leaf</text><text x="250" y="1117">Shell</text><text x="297" y="1117">Seed</text></g>

<!-- ============ PANEL F ============ -->
<text class="L" x="345" y="892">f</text>
<path class="ax" d="M396,902 V1094 H638 M391,902 H396 M391,940.4 H396 M391,978.8 H396 M391,1017.2 H396 M391,1055.6 H396 M391,1094 H396 M424,1094 v4 M470,1094 v4 M517,1094 v4 M563,1094 v4 M609,1094 v4"/>
<g font-size="13" text-anchor="end"><text x="387" y="906.5">10</text><text x="387" y="944.9">8</text><text x="387" y="983.3">6</text><text x="387" y="1021.7">4</text><text x="387" y="1060.1">2</text><text x="387" y="1098.5">0</text></g>
<text transform="translate(362,998) rotate(-90)" font-size="15" text-anchor="middle">Relative expression levels</text>
<rect class="bb" x="405" y="1074.8" width="19" height="19.2"/><rect class="ob" x="425" y="1063.3" width="18" height="30.7"/>
<rect class="bb" x="451" y="1047.9" width="18" height="46.1"/><rect class="ob" x="471" y="1078.6" width="18" height="15.4"/>
<rect class="bb" x="498" y="961.5" width="18" height="132.5"/><rect class="ob" x="518" y="1077.7" width="18" height="16.3"/>
<rect class="bb" x="544" y="1069" width="19" height="25"/><rect class="ob" x="564" y="1074.8" width="19" height="19.2"/>
<rect class="bb" x="590" y="1071.9" width="18" height="22.1"/><rect class="ob" x="610" y="1084.4" width="18" height="9.6"/>
<path class="ax" d="M434,1060.4 V1066 M430,1060.4 H438 M460,1043.1 V1051.8 M456,1043.1 H464 M507,943.3 V981.7 M503,943.3 H511 M503,981.7 H511 M553,1067 V1071 M549,1067 H557 M599,1068.1 V1075.8 M595,1068.1 H603"/>
<g class="pt">
<circle cx="410" cy="1074.8" r="2.8"/><circle cx="415" cy="1074.8" r="2.8"/><circle cx="420" cy="1074.8" r="2.8"/>
<circle cx="430" cy="1060.4" r="2.8"/><circle cx="435" cy="1063.3" r="2.8"/><circle cx="440" cy="1063.3" r="2.8"/>
<circle cx="456" cy="1040" r="2.8"/><circle cx="460" cy="1050" r="2.8"/><circle cx="465" cy="1050" r="2.8"/>
<circle cx="475" cy="1075" r="2.8"/><circle cx="480" cy="1079" r="2.8"/><circle cx="485" cy="1080" r="2.8"/>
<circle cx="505" cy="928.9" r="2.8"/><circle cx="507" cy="961.5" r="2.8"/><circle cx="507" cy="996" r="2.8"/>
<circle cx="522" cy="1077.7" r="2.8"/><circle cx="527" cy="1077.7" r="2.8"/><circle cx="532" cy="1077" r="2.8"/>
<circle cx="549" cy="1066" r="2.8"/><circle cx="554" cy="1069" r="2.8"/><circle cx="559" cy="1070" r="2.8"/>
<circle cx="569" cy="1074.8" r="2.8"/><circle cx="574" cy="1074.8" r="2.8"/><circle cx="579" cy="1074.8" r="2.8"/>
<circle cx="596" cy="1065" r="2.8"/><circle cx="600" cy="1075" r="2.8"/><circle cx="604" cy="1074" r="2.8"/>
<circle cx="614" cy="1084.4" r="2.8"/><circle cx="619" cy="1084.4" r="2.8"/><circle cx="624" cy="1084.4" r="2.8"/>
</g>
<path class="ax" d="M414,1053 V1043 H434 V1053 M461,1036 V1026 H481 V1036 M508,923 V913 H528 V923 M554,1061 V1052 H574 V1061 M600,1060 V1051 H620 V1060"/>
<g font-size="12">
<text transform="translate(427,1002) rotate(-90)" text-anchor="middle"><tspan class="it">P</tspan> = 2.9 × 10<tspan font-size="8.5" dy="-5">−3</tspan></text>
<text transform="translate(472,987) rotate(-90)" text-anchor="middle"><tspan class="it">P</tspan> = 2.7 × 10<tspan font-size="8.5" dy="-5">−3</tspan></text>
<text x="516" y="910" text-anchor="middle"><tspan class="it">P</tspan> = 3.8 × 10<tspan font-size="8.5" dy="-5">−3</tspan></text>
<text transform="translate(565,1018) rotate(-90)" text-anchor="middle"><tspan class="it">P</tspan> = 0.0250</text>
<text transform="translate(611,1017) rotate(-90)" text-anchor="middle"><tspan class="it">P</tspan> = 0.0299</text>
</g>
<rect class="bb" x="400" y="903" width="14" height="15"/><rect class="ob" x="400" y="928" width="14" height="15"/>
<text x="423" y="916" font-size="15">HapI</text><text x="423" y="941" font-size="15">HapII</text>
<g font-size="14.5" text-anchor="middle"><text x="424" y="1117">0</text><text x="470" y="1117">2</text><text x="517" y="1117">4</text><text x="563" y="1117">6</text><text x="609" y="1117">12</text></g>
<text x="513" y="1137" font-size="14.5" text-anchor="middle">Time (h)</text>

<!-- ============ PANEL G ============ -->
<text class="L" x="662" y="48">g</text>
<g font-size="15" text-anchor="middle"><text x="759" y="58">GFP</text><text x="835" y="58">mCherry</text><text x="910" y="58">Bright</text><text x="988" y="58">Merge</text></g>
<rect x="720" y="66" width="153" height="77" fill="#050505"/>
<rect x="720" y="145" width="153" height="77" fill="#050505"/>
<rect x="720" y="225" width="153" height="76" fill="#050505"/>
<rect x="720" y="304" width="153" height="79" fill="#050505"/>
<rect x="873" y="66" width="154" height="77" fill="url(#pc)"/>
<rect x="873" y="145" width="154" height="77" fill="url(#pc3)"/>
<rect x="873" y="225" width="154" height="76" fill="url(#pc2)"/>
<rect x="873" y="304" width="154" height="79" fill="url(#pc3)"/>
<path d="M797,66 V383 M950,66 V383" stroke="#6a6a6a" stroke-width="0.8"/>
<circle cx="757" cy="98" r="4" fill="#28c038"/><circle cx="835" cy="98" r="3.5" fill="#d81818"/><circle cx="989" cy="98" r="4" fill="#c8c828"/>
<circle cx="848" cy="183" r="2.5" fill="#e81818"/><circle cx="1001" cy="183" r="2.5" fill="#e81818"/>
<circle cx="776" cy="255" r="3.5" fill="#20a030"/><circle cx="853" cy="255" r="4" fill="#c81818"/><circle cx="1006" cy="255" r="4" fill="#d09020"/>
<circle cx="831" cy="337" r="2.5" fill="#d81818"/><circle cx="984" cy="337" r="3" fill="#e81818"/>
<g font-size="13" fill="#fff" text-anchor="end">
<text x="794" y="131">20 µm</text><text x="871" y="131">20 µm</text>
<text x="794" y="210">20 µm</text><text x="871" y="210">20 µm</text>
<text x="794" y="290">20 µm</text><text x="871" y="290">20 µm</text>
<text x="794" y="371">20 µm</text><text x="871" y="371">20 µm</text>
</g>
<g fill="#fff">
<rect x="774" y="136" width="15" height="5"/><rect x="851" y="136" width="15" height="5"/>
<rect x="774" y="215" width="15" height="5"/><rect x="851" y="215" width="15" height="5"/>
<rect x="774" y="295" width="15" height="5"/><rect x="851" y="295" width="15" height="5"/>
<rect x="774" y="376" width="15" height="5"/><rect x="851" y="376" width="15" height="5"/>
</g>
<g font-size="14" class="it" text-anchor="middle">
<text transform="translate(696,103) rotate(-90)">TPL-cYFP</text><text transform="translate(711,104) rotate(-90)">HapI-nYFP</text>
<text transform="translate(696,184) rotate(-90)">TPL-cYFP</text><text transform="translate(711,184) rotate(-90)">HapII-nYFP</text>
<text transform="translate(696,263) rotate(-90)">IAA13-cYFP</text><text transform="translate(711,262) rotate(-90)">HapI-nYFP</text>
<text transform="translate(696,343) rotate(-90)">IAA13-cYFP</text><text transform="translate(711,343) rotate(-90)">HapII-nYFP</text>
</g>

<!-- ============ PANEL L ============ -->
<text class="L" x="1050" y="47">l</text>
<rect x="1068" y="56" width="339" height="111" fill="#fff" stroke="#bbb"/>
<path d="M1176,56 V167 M1275,56 V167" stroke="#ccc"/>
<g fill="url(#sg)" stroke="#b89a3a" stroke-width="0.8">
<ellipse cx="1085" cy="93" rx="8.5" ry="12" transform="rotate(-30 1085 93)"/><ellipse cx="1102" cy="90" rx="8.5" ry="12" transform="rotate(15 1102 90)"/><ellipse cx="1119" cy="77" rx="8.5" ry="12" transform="rotate(40 1119 77)"/><ellipse cx="1138" cy="78" rx="8.5" ry="12" transform="rotate(-10 1138 78)"/><ellipse cx="1160" cy="83" rx="8.5" ry="12" transform="rotate(20 1160 83)"/><ellipse cx="1082" cy="110" rx="8.5" ry="12" transform="rotate(-60 1082 110)"/><ellipse cx="1111" cy="102" rx="8.5" ry="12" transform="rotate(70 1111 102)"/><ellipse cx="1133" cy="102" rx="8.5" ry="12" transform="rotate(5 1133 102)"/><ellipse cx="1150" cy="114" rx="8.5" ry="12" transform="rotate(-35 1150 114)"/><ellipse cx="1077" cy="132" rx="8.5" ry="12" transform="rotate(10 1077 132)"/><ellipse cx="1097" cy="139" rx="8.5" ry="12" transform="rotate(60 1097 139)"/><ellipse cx="1117" cy="132" rx="8.5" ry="12" transform="rotate(-20 1117 132)"/><ellipse cx="1133" cy="126" rx="8.5" ry="12" transform="rotate(45 1133 126)"/><ellipse cx="1118" cy="117" rx="8.5" ry="12" transform="rotate(80 1118 117)"/><ellipse cx="1163" cy="102" rx="8.5" ry="12" transform="rotate(-15 1163 102)"/>
<ellipse cx="1194" cy="92" rx="8.5" ry="12" transform="rotate(-30 1194 92)"/><ellipse cx="1211" cy="77" rx="8.5" ry="12" transform="rotate(20 1211 77)"/><ellipse cx="1226" cy="80" rx="8.5" ry="12" transform="rotate(-10 1226 80)"/><ellipse cx="1241" cy="91" rx="8.5" ry="12" transform="rotate(35 1241 91)"/><ellipse cx="1213" cy="96" rx="8.5" ry="12" transform="rotate(60 1213 96)"/><ellipse cx="1230" cy="103" rx="8.5" ry="12" transform="rotate(-40 1230 103)"/><ellipse cx="1249" cy="109" rx="8.5" ry="12" transform="rotate(15 1249 109)"/><ellipse cx="1199" cy="127" rx="8.5" ry="12" transform="rotate(-20 1199 127)"/><ellipse cx="1216" cy="119" rx="8.5" ry="12" transform="rotate(50 1216 119)"/><ellipse cx="1233" cy="128" rx="8.5" ry="12" transform="rotate(-5 1233 128)"/><ellipse cx="1251" cy="124" rx="8.5" ry="12" transform="rotate(30 1251 124)"/><ellipse cx="1206" cy="143" rx="8.5" ry="12" transform="rotate(-30 1206 143)"/>
<ellipse cx="1291" cy="97" rx="8.5" ry="12" transform="rotate(-25 1291 97)"/><ellipse cx="1313" cy="88" rx="8.5" ry="12" transform="rotate(20 1313 88)"/><ellipse cx="1335" cy="80" rx="8.5" ry="12" transform="rotate(-10 1335 80)"/><ellipse cx="1357" cy="66" rx="8.5" ry="12" transform="rotate(15 1357 66)"/><ellipse cx="1374" cy="84" rx="8.5" ry="12" transform="rotate(-40 1374 84)"/><ellipse cx="1341" cy="96" rx="8.5" ry="12" transform="rotate(60 1341 96)"/><ellipse cx="1391" cy="98" rx="8.5" ry="12" transform="rotate(10 1391 98)"/><ellipse cx="1296" cy="121" rx="8.5" ry="12" transform="rotate(30 1296 121)"/><ellipse cx="1318" cy="111" rx="8.5" ry="12" transform="rotate(-50 1318 111)"/><ellipse cx="1336" cy="118" rx="8.5" ry="12" transform="rotate(20 1336 118)"/><ellipse cx="1355" cy="124" rx="8.5" ry="12" transform="rotate(-15 1355 124)"/><ellipse cx="1379" cy="116" rx="8.5" ry="12" transform="rotate(45 1379 116)"/><ellipse cx="1399" cy="123" rx="8" ry="12" transform="rotate(-20 1399 123)"/><ellipse cx="1313" cy="134" rx="8.5" ry="12" transform="rotate(10 1313 134)"/><ellipse cx="1340" cy="132" rx="8.5" ry="12" transform="rotate(-35 1340 132)"/><ellipse cx="1320" cy="152" rx="8.5" ry="12" transform="rotate(25 1320 152)"/><ellipse cx="1358" cy="97" rx="8.5" ry="12" transform="rotate(-5 1358 97)"/><ellipse cx="1372" cy="105" rx="8.5" ry="12" transform="rotate(40 1372 105)"/>
</g>
<text x="1381" y="154" font-size="12.5" text-anchor="middle">500 µm</text>
<rect x="1371" y="159" width="22" height="5" fill="#111"/>
<text x="1124" y="184" font-size="15" text-anchor="middle">Col-0</text>
<text x="1225" y="184" font-size="15" text-anchor="middle" class="it">OE-HapI-3</text>
<text x="1342" y="184" font-size="15" text-anchor="middle" class="it">OE-HapII-3</text>

<!-- ============ PANEL M ============ -->
<text class="L" x="1051" y="208">m</text>
<path class="ax" d="M1112,213 V393 H1222 M1107,213 H1112 M1107,249 H1112 M1107,285 H1112 M1107,321 H1112 M1107,357 H1112 M1107,393 H1112 M1133,393 v4 M1168,393 v4 M1201,393 v4"/>
<g font-size="13" text-anchor="end"><text x="1103" y="217.5">50</text><text x="1103" y="253.5">40</text><text x="1103" y="289.5">30</text><text x="1103" y="325.5">20</text><text x="1103" y="361.5">10</text><text x="1103" y="397.5">0</text></g>
<text transform="translate(1078,303) rotate(-90)" font-size="15" text-anchor="middle">Relative expression levels</text>
<rect class="ob" x="1159" y="261.6" width="18" height="131.4"/>
<rect class="ob" x="1192" y="292.2" width="18" height="100.8"/>
<path class="ax" d="M1168,247.2 V276 M1164,247.2 H1172 M1164,276 H1172 M1201,285 V299.4 M1197,285 H1205"/>
<g class="pt"><circle cx="1127" cy="392" r="2.8"/><circle cx="1133" cy="392" r="2.8"/><circle cx="1139" cy="392" r="2.8"/>
<circle cx="1168" cy="238.2" r="2.8"/><circle cx="1168" cy="267" r="2.8"/><circle cx="1168" cy="285" r="2.8"/>
<circle cx="1201" cy="277.8" r="2.8"/><circle cx="1201" cy="292.2" r="2.8"/><circle cx="1201" cy="299.4" r="2.8"/></g>
<g font-size="14" text-anchor="end">
<text transform="translate(1138,403) rotate(-45)">Col-0</text>
<text transform="translate(1173,403) rotate(-45)">OE-HapI-3</text>
<text transform="translate(1206,403) rotate(-45)">OE-HapII-3</text>
</g>

<!-- ============ PANEL N ============ -->
<text class="L" x="1232" y="208">n</text>
<path class="ax" d="M1296,214 V393 H1405 M1291,214 H1296 M1291,249.8 H1296 M1291,285.6 H1296 M1291,321.4 H1296 M1291,357.2 H1296 M1291,393 H1296 M1319,393 v4 M1351,393 v4 M1382,393 v4"/>
<g font-size="13" text-anchor="end"><text x="1288" y="218.5">0.14</text><text x="1288" y="254.3">0.13</text><text x="1288" y="290.1">0.12</text><text x="1288" y="325.9">0.11</text><text x="1288" y="361.7">0.10</text><text x="1288" y="397.5">0.09</text></g>
<text transform="translate(1252,320) rotate(-90)" font-size="15" text-anchor="middle">Seed area (mm<tspan font-size="10" dy="-5">2</tspan><tspan dy="5">)</tspan></text>
<rect class="bb" x="1309" y="316" width="19" height="77"/>
<rect class="ob" x="1342" y="359" width="17" height="34"/>
<rect class="ob" x="1374" y="316" width="17" height="77"/>
<g class="pt">
<circle cx="1313" cy="273.1" r="2.3"/><circle cx="1319" cy="276.6" r="2.3"/><circle cx="1325" cy="276.6" r="2.3"/><circle cx="1316" cy="291" r="2.3"/><circle cx="1322" cy="292.8" r="2.3"/><circle cx="1312" cy="296.3" r="2.3"/><circle cx="1318" cy="299.9" r="2.3"/><circle cx="1324" cy="301.7" r="2.3"/><circle cx="1314" cy="303.5" r="2.3"/><circle cx="1320" cy="307.1" r="2.3"/><circle cx="1326" cy="310.7" r="2.3"/><circle cx="1312" cy="314.2" r="2.3"/><circle cx="1318" cy="317.8" r="2.3"/><circle cx="1324" cy="321.4" r="2.3"/><circle cx="1315" cy="328.6" r="2.3"/><circle cx="1321" cy="335.7" r="2.3"/><circle cx="1313" cy="342.9" r="2.3"/><circle cx="1325" cy="346.5" r="2.3"/><circle cx="1317" cy="350" r="2.3"/><circle cx="1322" cy="353.6" r="2.3"/><circle cx="1313" cy="355.4" r="2.3"/>
<circle cx="1350" cy="337.5" r="2.3"/><circle cx="1345" cy="342.9" r="2.3"/><circle cx="1355" cy="346.5" r="2.3"/><circle cx="1347" cy="348.2" r="2.3"/><circle cx="1353" cy="348.2" r="2.3"/><circle cx="1349" cy="353.6" r="2.3"/><circle cx="1346" cy="360.8" r="2.3"/><circle cx="1354" cy="367.9" r="2.3"/><circle cx="1347" cy="376.9" r="2.3"/><circle cx="1353" cy="380.4" r="2.3"/>
<circle cx="1382" cy="276.6" r="2.3"/><circle cx="1379" cy="287.4" r="2.3"/><circle cx="1385" cy="291" r="2.3"/><circle cx="1380" cy="298.1" r="2.3"/><circle cx="1386" cy="301.7" r="2.3"/><circle cx="1382" cy="307.1" r="2.3"/><circle cx="1378" cy="310.7" r="2.3"/><circle cx="1386" cy="314.2" r="2.3"/><circle cx="1381" cy="319.6" r="2.3"/><circle cx="1377" cy="325" r="2.3"/><circle cx="1385" cy="328.6" r="2.3"/><circle cx="1380" cy="332.1" r="2.3"/><circle cx="1386" cy="335.7" r="2.3"/><circle cx="1378" cy="339.3" r="2.3"/><circle cx="1383" cy="342.9" r="2.3"/><circle cx="1379" cy="346.5" r="2.3"/><circle cx="1385" cy="350" r="2.3"/>
</g>
<path class="ax" d="M1318.5,311.4 V320.7 M1314.5,311.4 H1322.5 M1350.5,353.6 V364.4 M1346.5,353.6 H1354.5 M1382.5,309.6 V322.5 M1378.5,309.6 H1386.5"/>
<path class="ax" d="M1319,233 H1383 M1319,230 V236 M1383,230 V236 M1319,254 H1351 M1319,251 V257 M1351,251 V257 M1351,273 H1383 M1351,270 V276 M1383,270 V276"/>
<g font-size="12" text-anchor="middle">
<text x="1349" y="230"><tspan class="it">P</tspan> = 0.9296</text>
<text x="1335" y="248"><tspan class="it">P</tspan> = 3.5 × 10<tspan font-size="8.5" dy="-5">−5</tspan></text>
<text x="1364" y="267"><tspan class="it">P</tspan> = 1.1 × 10<tspan font-size="8.5" dy="-5">−4</tspan></text>
</g>
<g font-size="14" text-anchor="end">
<text transform="translate(1324,403) rotate(-45)">Col-0</text>
<text transform="translate(1356,403) rotate(-45)">OE-HapI-3</text>
<text transform="translate(1387,403) rotate(-45)">OE-HapII-3</text>
</g>

<!-- ============ PANEL O ============ -->
<text class="L" x="1050" y="487">o</text>
<path class="ax" d="M1112,504 V686 H1217 M1107,504.4 H1112 M1107,549.8 H1112 M1107,595.2 H1112 M1107,640.6 H1112 M1107,686 H1112 M1134,686 v4 M1166,686 v4 M1199,686 v4"/>
<g font-size="13.5" text-anchor="end"><text x="1103" y="509">0.55</text><text x="1103" y="554.4">0.50</text><text x="1103" y="599.8">0.45</text><text x="1103" y="645.2">0.40</text><text x="1103" y="690.6">0.35</text></g>
<text transform="translate(1063,593) rotate(-90)" font-size="15" text-anchor="middle">Seed length (mm)</text>
<rect class="bb" x="1125" y="603.4" width="17" height="82.6"/>
<rect class="ob" x="1158" y="638.8" width="16" height="47.2"/>
<rect class="ob" x="1190" y="601.6" width="17" height="84.4"/>
<g class="pt">
<circle cx="1131" cy="571.6" r="2.3"/><circle cx="1128" cy="577.9" r="2.3"/><circle cx="1136" cy="578.8" r="2.3"/><circle cx="1140" cy="579.7" r="2.3"/><circle cx="1131" cy="581.5" r="2.3"/><circle cx="1137" cy="583.3" r="2.3"/><circle cx="1128" cy="586" r="2.3"/><circle cx="1134" cy="587.9" r="2.3"/><circle cx="1139" cy="590.6" r="2.3"/><circle cx="1129" cy="593.3" r="2.3"/><circle cx="1135" cy="596" r="2.3"/><circle cx="1131" cy="599.7" r="2.3"/><circle cx="1127" cy="604.2" r="2.3"/><circle cx="1138" cy="604.2" r="2.3"/><circle cx="1133" cy="608.7" r="2.3"/><circle cx="1128" cy="611.5" r="2.3"/><circle cx="1139" cy="615.1" r="2.3"/><circle cx="1131" cy="619.6" r="2.3"/><circle cx="1136" cy="624.1" r="2.3"/><circle cx="1128" cy="629.6" r="2.3"/><circle cx="1139" cy="631.4" r="2.3"/><circle cx="1130" cy="654.2" r="2.3"/>
<circle cx="1166" cy="607" r="2.3"/><circle cx="1162" cy="620.6" r="2.3"/><circle cx="1161" cy="630.6" r="2.3"/><circle cx="1170" cy="630.6" r="2.3"/><circle cx="1165" cy="636.1" r="2.3"/><circle cx="1169" cy="643.3" r="2.3"/><circle cx="1161" cy="651.5" r="2.3"/><circle cx="1170" cy="656.9" r="2.3"/><circle cx="1163" cy="661.5" r="2.3"/>
<circle cx="1200" cy="558" r="2.3"/><circle cx="1199" cy="563.4" r="2.3"/><circle cx="1204" cy="576.1" r="2.3"/><circle cx="1195" cy="579.7" r="2.3"/><circle cx="1202" cy="584.3" r="2.3"/><circle cx="1193" cy="587" r="2.3"/><circle cx="1199" cy="590.6" r="2.3"/><circle cx="1205" cy="593.3" r="2.3"/><circle cx="1196" cy="596" r="2.3"/><circle cx="1202" cy="599.7" r="2.3"/><circle cx="1193" cy="604.2" r="2.3"/><circle cx="1199" cy="611.5" r="2.3"/><circle cx="1204" cy="617.9" r="2.3"/><circle cx="1195" cy="623.3" r="2.3"/><circle cx="1201" cy="636.1" r="2.3"/><circle cx="1197" cy="655.1" r="2.3"/>
</g>
<path class="ax" d="M1133.5,599.8 V607 M1129.5,599.8 H1137.5 M1166,633.4 V644.3 M1162,633.4 H1170 M1162,644.3 H1170 M1198.5,595.2 V607.9 M1194.5,595.2 H1202.5"/>
<path class="ax" d="M1134,513 H1199 M1134,510 V516 M1199,510 V516 M1134,532 H1166 M1134,529 V535 M1166,529 V535 M1166,550 H1199 M1166,547 V553 M1199,547 V553"/>
<g font-size="12" text-anchor="middle">
<text x="1167" y="509"><tspan class="it">P</tspan> = 0.7575</text>
<text x="1148" y="527"><tspan class="it">P</tspan> = 4.4 × 10<tspan font-size="8.5" dy="-5">−4</tspan></text>
<text x="1182" y="545"><tspan class="it">P</tspan> = 5.1 × 10<tspan font-size="8.5" dy="-5">−4</tspan></text>
</g>
<g font-size="14" text-anchor="end">
<text transform="translate(1139,695) rotate(-45)">Col-0</text>
<text transform="translate(1171,695) rotate(-45)">OE-HapI-3</text>
<text transform="translate(1204,695) rotate(-45)">OE-HapII-3</text>
</g>

<!-- ============ PANEL P ============ -->
<text class="L" x="1233" y="487">p</text>
<path class="ax" d="M1296,504 V686 H1405 M1291,504.4 H1296 M1291,549.8 H1296 M1291,595.2 H1296 M1291,640.6 H1296 M1291,686 H1296 M1318,686 v4 M1350,686 v4 M1383,686 v4"/>
<g font-size="13.5" text-anchor="end"><text x="1287" y="509">0.32</text><text x="1287" y="554.4">0.30</text><text x="1287" y="599.8">0.28</text><text x="1287" y="645.2">0.26</text><text x="1287" y="690.6">0.24</text></g>
<text transform="translate(1246,593) rotate(-90)" font-size="15" text-anchor="middle">Seed width (mm)</text>
<rect class="bb" x="1310" y="594.1" width="17" height="91.9"/>
<rect class="ob" x="1342" y="611.8" width="17" height="74.2"/>
<rect class="ob" x="1375" y="595.9" width="17" height="90.1"/>
<g class="pt">
<circle cx="1320" cy="545.3" r="2.3"/><circle cx="1317" cy="547.5" r="2.3"/><circle cx="1314" cy="556.6" r="2.3"/><circle cx="1320" cy="558.9" r="2.3"/><circle cx="1316" cy="563.4" r="2.3"/><circle cx="1322" cy="581.6" r="2.3"/><circle cx="1316" cy="583.9" r="2.3"/><circle cx="1312" cy="590.7" r="2.3"/><circle cx="1324" cy="595.2" r="2.3"/><circle cx="1315" cy="597.5" r="2.3"/><circle cx="1321" cy="599.7" r="2.3"/><circle cx="1325" cy="602" r="2.3"/><circle cx="1313" cy="604.3" r="2.3"/><circle cx="1319" cy="613.4" r="2.3"/><circle cx="1323" cy="617.9" r="2.3"/><circle cx="1316" cy="642.9" r="2.3"/><circle cx="1321" cy="645.1" r="2.3"/><circle cx="1317" cy="647.4" r="2.3"/>
<circle cx="1351" cy="574.8" r="2.3"/><circle cx="1351" cy="579.3" r="2.3"/><circle cx="1347" cy="583.9" r="2.3"/><circle cx="1344" cy="599.7" r="2.3"/><circle cx="1354" cy="602" r="2.3"/><circle cx="1348" cy="604.3" r="2.3"/><circle cx="1356" cy="608.8" r="2.3"/><circle cx="1345" cy="617.9" r="2.3"/><circle cx="1353" cy="622.4" r="2.3"/><circle cx="1347" cy="629.3" r="2.3"/><circle cx="1355" cy="633.8" r="2.3"/><circle cx="1350" cy="645.1" r="2.3"/>
<circle cx="1386" cy="533.9" r="2.3"/><circle cx="1386" cy="538.5" r="2.3"/><circle cx="1378" cy="554.3" r="2.3"/><circle cx="1380" cy="577" r="2.3"/><circle cx="1388" cy="579.3" r="2.3"/><circle cx="1379" cy="597.5" r="2.3"/><circle cx="1386" cy="599.7" r="2.3"/><circle cx="1382" cy="606.5" r="2.3"/><circle cx="1378" cy="613.4" r="2.3"/><circle cx="1387" cy="617.9" r="2.3"/><circle cx="1380" cy="622.4" r="2.3"/><circle cx="1389" cy="624.7" r="2.3"/><circle cx="1381" cy="627" r="2.3"/><circle cx="1386" cy="629.3" r="2.3"/>
</g>
<path class="ax" d="M1318.5,587.8 V600.5 M1314.5,587.8 H1322.5 M1350.5,606.1 V617.5 M1346.5,606.1 H1354.5 M1383.5,589.1 V602.7 M1379.5,589.1 H1387.5"/>
<path class="ax" d="M1318,509 H1383 M1318,506 V512 M1383,506 V512 M1318,528 H1350 M1318,525 V531 M1350,525 V531 M1350,546 H1383 M1350,543 V549 M1383,543 V549"/>
<g font-size="12" text-anchor="middle">
<text x="1352" y="505"><tspan class="it">P</tspan> = 0.8352</text>
<text x="1335" y="522"><tspan class="it">P</tspan> = 0.0781</text>
<text transform="translate(1385,522) rotate(-45)"><tspan class="it">P</tspan> = 0.1025</text>
</g>
<g font-size="14" text-anchor="end">
<text transform="translate(1323,695) rotate(-45)">Col-0</text>
<text transform="translate(1355,695) rotate(-45)">OE-HapI-3</text>
<text transform="translate(1388,695) rotate(-45)">OE-HapII-3</text>
</g>

<!-- ============ PANEL H / I ============ -->
<text class="L" x="662" y="432">h</text>
<text class="L" x="856" y="432">i</text>
<polygon points="730,430 848,440 730,440" fill="#fff" stroke="#222" stroke-width="1"/>
<polygon points="919,430 1037,440 919,440" fill="#fff" stroke="#222" stroke-width="1"/>
<rect x="730" y="443" width="118" height="159" fill="#8e939b"/>
<rect x="919" y="443" width="118" height="159" fill="#8e939b"/>
<path d="M769,443 V602 M808,443 V602 M730,482.5 H848 M730,522 H848 M730,562 H848 M958,443 V602 M997,443 V602 M919,482.5 H1037 M919,522 H1037 M919,562 H1037" stroke="#e8e8e8" stroke-width="1.2"/>
<g fill="#ddd0b6">
<circle cx="749.5" cy="462.5" r="14"/><circle cx="788.5" cy="462.5" r="14"/>
<circle cx="749.5" cy="582.5" r="14"/><circle cx="788.5" cy="582.5" r="14"/>
<circle cx="938.5" cy="462.5" r="14"/><circle cx="977.5" cy="462.5" r="14" fill="#d2c2a2"/>
<circle cx="938.5" cy="582.5" r="14" fill="#d8c5a0"/><circle cx="977.5" cy="582.5" r="14" fill="#d8c5a0"/><circle cx="1017" cy="582.5" r="14" fill="#ccb690"/>
<circle cx="822" cy="456" r="4"/><circle cx="830" cy="453" r="4"/><circle cx="837" cy="459" r="4"/><circle cx="824" cy="464" r="4"/><circle cx="832" cy="467" r="4"/><circle cx="828" cy="472" r="3.5"/><circle cx="838" cy="468" r="3.5"/><circle cx="819" cy="462" r="3.5"/><circle cx="828" cy="460" r="4"/>
<circle cx="821" cy="577" r="4.5"/><circle cx="830" cy="574" r="4.5"/><circle cx="837" cy="580" r="4.5"/><circle cx="823" cy="586" r="4.5"/><circle cx="832" cy="589" r="4.5"/><circle cx="828" cy="582" r="4.5"/><circle cx="838" cy="589" r="3.5"/><circle cx="826" cy="593" r="3.5"/>
<circle cx="1011" cy="457" r="4"/><circle cx="1019" cy="454" r="4"/><circle cx="1026" cy="460" r="4"/><circle cx="1013" cy="466" r="4"/><circle cx="1021" cy="468" r="4"/><circle cx="1017" cy="461" r="4"/><circle cx="1027" cy="468" r="3.5"/><circle cx="1008" cy="463" r="3.5"/>
</g>
<g fill="#a5a7aa"><circle cx="982" cy="458" r="1.5"/><circle cx="973" cy="466" r="1.5"/><circle cx="1013" cy="580" r="1.5"/><circle cx="1021" cy="586" r="1.5"/></g>
<g fill="#9a9ea4">
<circle cx="749.5" cy="502.5" r="14"/><circle cx="788.5" cy="502.5" r="13"/><circle cx="828" cy="502.5" r="12" fill="#93979f"/>
<circle cx="749.5" cy="542" r="13" fill="#959aa1"/>
<circle cx="938.5" cy="502.5" r="13"/><circle cx="977.5" cy="502.5" r="12" fill="#95999f"/>
<circle cx="938.5" cy="542" r="13" fill="#979ba2"/>
</g>
<g font-size="12" text-anchor="end">
<text x="725" y="459">AD-HapI</text><text x="725" y="474">+ BD-IAA13</text>
<text x="725" y="499">AD-HapII</text><text x="725" y="513">+ BD-IAA13</text>
<text x="725" y="539">BD-T7-Lam</text><text x="725" y="553">+ AD-T7-T</text>
<text x="725" y="579">BD-T7-53</text><text x="725" y="592">+ AD-T7-T</text>
<text x="913" y="458">AD-HapI</text><text x="913" y="475">+ BD-TPL</text>
<text x="913" y="498">AD-HapII</text><text x="913" y="514">+ BD-TPL</text>
<text x="913" y="538">BD-T7-Lam</text><text x="913" y="553">+ AD-T7-T</text>
<text x="913" y="578">BD-T7-53</text><text x="913" y="593">+ AD-T7-T</text>
</g>
<text x="788" y="615" font-size="12" text-anchor="middle">SD/-Leu-Trp-His-Ade</text>
<text x="978" y="615" font-size="12" text-anchor="middle">SD/-Leu-Trp-His-Ade</text>

<!-- ============ PANEL J ============ -->
<text class="L" x="662" y="645">j</text>
<g font-size="12" text-anchor="middle"><text x="749" y="657">1×</text><text x="788" y="657">10×</text><text x="828" y="657">100×</text><text x="939" y="657">1×</text><text x="979" y="657">10×</text><text x="1019" y="657">100×</text></g>
<rect x="730" y="662" width="118" height="119" fill="#8b9099"/>
<path d="M769,662 V781 M808,662 V781 M730,702 H848 M730,741.5 H848" stroke="#e8e8e8" stroke-width="1.2"/>
<rect x="920" y="662" width="118" height="119" fill="#acaeb1"/>
<g fill="#efe6cc">
<circle cx="749.5" cy="682" r="14"/><circle cx="749.5" cy="721.5" r="14"/><circle cx="749.5" cy="761.5" r="14"/>
</g>
<g fill="#d6cbb0">
<circle cx="788.5" cy="682" r="14"/><circle cx="788.5" cy="721.5" r="14" fill="#d0c8b0"/><circle cx="788.5" cy="761.5" r="14" fill="#cac2a8"/>
</g>
<g fill="#a09a8e"><circle cx="784" cy="680" r="1.6"/><circle cx="792" cy="686" r="1.6"/><circle cx="790" cy="718" r="1.6"/><circle cx="784" cy="756" r="1.8"/><circle cx="792" cy="760" r="1.8"/><circle cx="786" cy="766" r="1.6"/></g>
<g fill="#ddd2b4">
<circle cx="822" cy="677" r="4"/><circle cx="831" cy="675" r="3.5"/><circle cx="836" cy="683" r="4"/><circle cx="826" cy="687" r="3.5"/><circle cx="831" cy="691" r="3"/>
<circle cx="821" cy="716" r="4.5"/><circle cx="830" cy="714" r="4.5"/><circle cx="837" cy="721" r="4"/><circle cx="824" cy="726" r="4.5"/><circle cx="832" cy="729" r="4"/>
<circle cx="821" cy="756" r="3.5"/><circle cx="829" cy="754" r="3.5"/><circle cx="836" cy="760" r="3.5"/><circle cx="823" cy="765" r="3.5"/><circle cx="831" cy="767" r="3.5"/><circle cx="828" cy="760" r="3"/>
</g>
<g fill="#f6f3ec">
<circle cx="939.5" cy="682" r="14"/><circle cx="939.5" cy="721.5" r="14"/>
</g>
<circle cx="979" cy="682" r="14" fill="#d8d9d4"/>
<circle cx="979" cy="721.5" r="14" fill="#cfd0cc"/>
<g fill="#eeeeea">
<circle cx="1013" cy="677" r="3.5"/><circle cx="1021" cy="675" r="3.5"/><circle cx="1026" cy="682" r="3.5"/><circle cx="1016" cy="686" r="3.5"/><circle cx="1023" cy="690" r="3"/><circle cx="1011" cy="683" r="3"/>
<circle cx="1013" cy="717" r="2.5"/><circle cx="1021" cy="716" r="2.5"/><circle cx="1025" cy="723" r="2.5"/><circle cx="1015" cy="727" r="2.5"/><circle cx="1021" cy="729" r="2"/>
<circle cx="974" cy="717" r="2"/><circle cx="983" cy="724" r="2"/>
</g>
<g font-size="12" text-anchor="end">
<text x="725" y="679">AD-HapI +</text><text x="725" y="693" class="it">GRF5<tspan font-style="normal">:Pro</tspan></text>
<text x="725" y="719">AD-HapII +</text><text x="725" y="734" class="it">GRF5<tspan font-style="normal">:Pro</tspan></text>
<text x="725" y="760">AD-Empty +</text><text x="725" y="774" class="it">GRF5<tspan font-style="normal">:Pro</tspan></text>
</g>
<g font-size="12" text-anchor="middle">
<text x="792" y="794">0 ng ml<tspan font-size="8.5" dy="-5">−1</tspan><tspan dy="5"> AbA</tspan></text>
<text x="984" y="794">200 ng ml<tspan font-size="8.5" dy="-5">−1</tspan><tspan dy="5"> AbA</tspan></text>
<text x="788" y="816">SD/-Ura</text><text x="979" y="816">SD/-Leu</text>
</g>
<path d="M730,802 H848 M921,802 H1038" stroke="#777" stroke-width="1.8"/>

<!-- ============ PANEL K ============ -->
<text class="L" x="662" y="880">k</text>
<text x="732" y="887" font-size="14.5" text-anchor="middle">CK</text>
<text x="828" y="878" font-size="14.5" text-anchor="middle">35S:HapII +</text>
<text x="830" y="895" font-size="14.5" text-anchor="middle" class="it">GRF5pro:LUC</text>
<path d="M772,892 C795,895 830,905 840,920 C848,940 845,985 838,1010 C830,1040 805,1058 770,1062 C745,1060 720,1040 705,1015 C692,995 683,960 692,937 C700,920 740,898 772,892 Z" fill="url(#lf)"/>
<path d="M770,930 C750,935 730,945 712,960 M770,960 C790,950 810,940 832,935 M770,990 C750,995 735,1005 720,1020 M770,1010 C790,1005 810,1000 828,1010 M770,1040 C755,1040 740,1045 730,1050" fill="none" stroke="#b8b8b8" stroke-width="1.2"/>
<ellipse cx="806" cy="937" rx="22" ry="22" fill="#2238b0" opacity=".92"/>
<ellipse cx="805" cy="1000" rx="30" ry="20" fill="#2238b0" opacity=".9"/>
<ellipse cx="737" cy="1017" rx="28" ry="24" fill="#2a48b8"/>
<g fill="#2aa8d8"><circle cx="798" cy="930" r="3"/><circle cx="815" cy="940" r="2.5"/><circle cx="808" cy="950" r="2.5"/><circle cx="820" cy="925" r="2"/><circle cx="795" cy="995" r="2.5"/><circle cx="812" cy="1005" r="2.5"/><circle cx="825" cy="992" r="2"/><circle cx="728" cy="1010" r="4"/><circle cx="745" cy="1025" r="4"/><circle cx="735" cy="1030" r="3"/><circle cx="750" cy="1008" r="3"/></g>
<g fill="#7ac840"><circle cx="722" cy="1020" r="3.5"/><circle cx="740" cy="1005" r="3"/><circle cx="755" cy="1018" r="3"/><circle cx="730" cy="1032" r="3"/><circle cx="810" cy="928" r="2"/></g>
<g fill="#d8d040"><circle cx="720" cy="1012" r="2.5"/><circle cx="748" cy="1030" r="2.5"/></g>
<ellipse cx="725" cy="1004" rx="5" ry="3" fill="#fff"/>
<g fill="#3050c0"><circle cx="742" cy="928" r="1.5"/><circle cx="746" cy="924" r="1.2"/><circle cx="738" cy="950" r="1.2"/></g>
<path d="M687,969 H845 M770,892 V1062" stroke="#fff" stroke-width="1.5"/>
<text x="715" y="1081" font-size="14.5" text-anchor="middle">35S:GFP +</text>
<text x="715" y="1098" font-size="14.5" text-anchor="middle" class="it">GRF5pro:LUC</text>
<text x="818" y="1081" font-size="14.5" text-anchor="middle">35S:HapI +</text>
<text x="818" y="1098" font-size="14.5" text-anchor="middle" class="it">GRF5pro:LUC</text>
<path class="ax" d="M929,882 V1042 H1037 M924,882 H929 M924,935.3 H929 M924,988.7 H929 M924,1042 H929 M953,1042 v4 M991,1042 v4 M1029,1042 v4"/>
<g font-size="13" text-anchor="end"><text x="921" y="886.5">1.5</text><text x="921" y="939.8">1.0</text><text x="921" y="993.2">0.5</text><text x="921" y="1046.5">0</text></g>
<text transform="translate(895,962) rotate(-90)" font-size="14.5" text-anchor="middle">LUC/REN activity</text>
<rect class="bb" x="944" y="942.8" width="19" height="99.2"/>
<rect class="ob" x="982" y="1021.7" width="18" height="20.3"/>
<rect class="ob" x="1020" y="978" width="18" height="64"/>
<path class="ax" d="M953.5,927.8 V956.6 M949.5,927.8 H957.5 M949.5,956.6 H957.5 M991,1015.3 V1028.1 M987,1015.3 H995 M987,1028.1 H995 M1029,975.9 V980.1 M1025,975.9 H1033"/>
<g class="pt"><circle cx="953.5" cy="927.8" r="2.8"/><circle cx="951" cy="948" r="2.8"/><circle cx="955" cy="956.6" r="2.8"/>
<circle cx="991" cy="1014" r="2.8"/><circle cx="986" cy="1026" r="2.8"/><circle cx="996" cy="1026" r="2.8"/>
<circle cx="1024" cy="978" r="2.8"/><circle cx="1029" cy="975.9" r="2.8"/><circle cx="1034" cy="978" r="2.8"/></g>
<path class="ax" d="M953,885 H1029 M953,882 V888 M1029,882 V888 M953,912 H991 M953,909 V915 M991,909 V915 M991,961 H1029 M991,958 V964 M1029,958 V964"/>
<g font-size="12" text-anchor="middle">
<text x="992" y="881"><tspan class="it">P</tspan> = 0.1457</text>
<text x="974" y="907"><tspan class="it">P</tspan> = 9.9 × 10<tspan font-size="8.5" dy="-5">−4</tspan></text>
<text x="1010" y="952"><tspan class="it">P</tspan> = 4.2 × 10<tspan font-size="8.5" dy="-5">−4</tspan></text>
</g>
<g font-size="13" text-anchor="end">
<text transform="translate(953,1050) rotate(-45)">35S:GFP +</text><text transform="translate(964,1053) rotate(-45)" class="it">GRF5pro:LUC</text>
<text transform="translate(991,1050) rotate(-45)">35S:HapI +</text><text transform="translate(1002,1053) rotate(-45)" class="it">GRF5pro:LUC</text>
<text transform="translate(1029,1050) rotate(-45)">35S:HapII +</text><text transform="translate(1040,1053) rotate(-45)" class="it">GRF5pro:LUC</text>
</g>

<!-- ============ PANEL Q ============ -->
<text class="L" x="1054" y="785">q</text>
<rect x="1074" y="798" width="331" height="325" fill="#dcefe0" stroke="#444" stroke-width="1.2"/>
<line x1="1240" y1="798" x2="1240" y2="1123" stroke="#333" stroke-width="1.5" stroke-dasharray="2,2"/>
<g font-size="12"><text x="1097" y="823">Auxin</text><text x="1253" y="823">Auxin</text></g>
<g fill="#86cdea">
<circle cx="1098" cy="829" r="3.3"/><circle cx="1106" cy="829" r="3.3"/><circle cx="1114" cy="829" r="3.3"/><circle cx="1122" cy="829" r="3.3"/><circle cx="1098" cy="837" r="3.3"/><circle cx="1106" cy="837" r="3.3"/><circle cx="1114" cy="837" r="3.3"/><circle cx="1098" cy="845" r="3.3"/><circle cx="1106" cy="845" r="3.3"/><circle cx="1098" cy="854" r="3.3"/>
<circle cx="1254" cy="829" r="3.3"/><circle cx="1262" cy="829" r="3.3"/><circle cx="1270" cy="829" r="3.3"/><circle cx="1278" cy="829" r="3.3"/><circle cx="1254" cy="837" r="3.3"/><circle cx="1262" cy="837" r="3.3"/><circle cx="1270" cy="837" r="3.3"/><circle cx="1254" cy="845" r="3.3"/><circle cx="1262" cy="845" r="3.3"/><circle cx="1254" cy="854" r="3.3"/>
</g>
<g fill="#f4896b">
<path d="M1119,860 C1122,849 1140,850 1152,858 C1158,862 1162,866 1158,872 C1152,880 1136,880 1124,874 C1118,870 1117,865 1119,860 Z"/>
<path d="M1279,860 C1282,849 1300,850 1312,858 C1318,862 1322,866 1318,872 C1312,880 1296,880 1284,874 C1278,870 1277,865 1279,860 Z"/>
<path d="M1102,888 C1106,884 1112,884 1113,888 C1110,895 1108,902 1110,907 C1105,905 1100,897 1102,888 Z"/>
<path d="M1116,890 C1122,887 1130,890 1140,897 C1132,902 1122,903 1116,900 Z"/>
<path d="M1105,905 C1112,903 1120,904 1122,908 C1122,914 1120,920 1118,925 C1110,925 1106,920 1105,912 Z"/>
<path d="M1262,888 C1266,884 1272,884 1273,888 C1270,895 1268,902 1270,907 C1265,905 1260,897 1262,888 Z"/>
<path d="M1276,890 C1282,887 1290,890 1300,897 C1292,902 1282,903 1276,900 Z"/>
<path d="M1265,905 C1272,903 1280,904 1282,908 C1282,914 1280,920 1278,925 C1270,925 1266,920 1265,912 Z"/>
</g>
<g fill="#7cb82f">
<path d="M1150,866 C1155,856 1170,852 1183,855 C1196,858 1200,870 1194,878 C1188,884 1176,882 1166,876 C1160,872 1154,872 1150,866 Z"/>
<path d="M1164,903 C1172,896 1190,896 1202,902 C1212,908 1214,918 1208,922 C1200,926 1192,918 1180,916 C1170,914 1162,910 1164,903 Z"/>
<path d="M1112,966 C1118,958 1130,956 1142,960 C1154,964 1158,972 1156,978 C1150,982 1140,976 1128,974 C1120,972 1114,970 1112,966 Z"/>
<path d="M1343,860 C1352,855 1368,855 1378,862 C1384,868 1382,876 1374,878 C1362,880 1350,876 1345,870 C1348,866 1346,863 1343,860 Z"/>
<path d="M1352,900 C1362,896 1378,900 1386,908 C1392,916 1386,922 1376,922 C1364,920 1356,914 1356,908 C1356,905 1352,903 1352,900 Z"/>
<path d="M1296,962 C1304,956 1320,958 1330,964 C1336,970 1332,978 1322,978 C1310,978 1300,972 1300,968 C1300,966 1298,964 1296,962 Z"/>
</g>
<g fill="#4a9ef2">
<path d="M1082,962 C1086,954 1098,952 1108,958 C1114,962 1114,970 1108,974 C1100,978 1088,976 1083,970 Z"/>
<path d="M1250,962 C1254,954 1266,952 1276,958 C1282,962 1282,970 1276,974 C1268,978 1256,976 1251,970 Z"/>
</g>
<circle cx="1117" cy="883" r="5" fill="#b0ccd4"/><circle cx="1277" cy="883" r="5" fill="#b0ccd4"/>
<g font-size="10.5" class="it">
<text transform="translate(1125,866) rotate(20)">IAA13</text><text transform="translate(1163,866) rotate(15)">ARF2</text>
<text transform="translate(1175,910) rotate(15)">ARF2</text><text transform="translate(1086,966) rotate(20)">TPL</text><text transform="translate(1124,969) rotate(15)">ARF2</text>
<text x="1104" y="899">I</text><text transform="translate(1120,896) rotate(30)">13</text><text x="1107" y="918">AA</text>
<text transform="translate(1285,866) rotate(20)">IAA13</text><text transform="translate(1350,866) rotate(15)">ARF2</text>
<text transform="translate(1360,910) rotate(15)">ARF2</text><text transform="translate(1254,966) rotate(20)">TPL</text><text transform="translate(1306,969) rotate(15)">ARF2</text>
<text x="1264" y="899">I</text><text transform="translate(1280,896) rotate(30)">13</text><text x="1267" y="918">AA</text>
</g>
<g font-size="9"><text x="1114.5" y="886.5">u</text><text x="1274.5" y="886.5">u</text></g>
<g font-size="12" fill="#e02020"><text x="1326" y="872">X</text><text x="1285" y="963">X</text></g>
<path d="M1164,986 V960 H1186 M1186,954 V966 M1333,986 V958 H1358 M1358,952 V964" fill="none" stroke="#e87f5a" stroke-width="2.5"/>
<path d="M1080,986 H1232 M1247,986 H1398" stroke="#e87f5a" stroke-width="1.5"/>
<rect x="1173" y="973" width="47" height="13" fill="#e8cf8e" stroke="#fff"/>
<rect x="1341" y="973" width="46" height="13" fill="#f0960a" stroke="#fff"/>
<g font-size="11" text-anchor="middle"><text x="1197" y="984">GRF5</text><text x="1364" y="984">GRF5</text></g>
<g fill="none" stroke="#a8a8a8" stroke-width="1.5">
<path d="M1105,991 c7,0 7,13 14,13 c7,0 7,-13 14,-13 c7,0 7,13 14,13 c7,0 7,-13 14,-13 c7,0 7,13 14,13 c7,0 7,-13 14,-13 c7,0 7,13 14,13 c7,0 7,-13 14,-13"/>
<path d="M1105,1004 c7,0 7,-13 14,-13 c7,0 7,13 14,13 c7,0 7,-13 14,-13 c7,0 7,13 14,13 c7,0 7,-13 14,-13 c7,0 7,13 14,13 c7,0 7,-13 14,-13 c7,0 7,13 14,13"/>
<path d="M1264,991 c7,0 7,13 14,13 c7,0 7,-13 14,-13 c7,0 7,13 14,13 c7,0 7,-13 14,-13 c7,0 7,13 14,13 c7,0 7,-13 14,-13 c7,0 7,13 14,13 c7,0 7,-13 14,-13"/>
<path d="M1264,1004 c7,0 7,-13 14,-13 c7,0 7,13 14,13 c7,0 7,-13 14,-13 c7,0 7,13 14,13 c7,0 7,-13 14,-13 c7,0 7,13 14,13 c7,0 7,-13 14,-13 c7,0 7,13 14,13"/>
</g>
<path d="M1167,1012 V1036" stroke="#3a4a6a" stroke-width="1.5" stroke-dasharray="4,3"/>
<polygon points="1163,1036 1171,1036 1167,1043" fill="#3a4a6a"/>
<path d="M1312,1012 V1032" stroke="#3a4a6a" stroke-width="2.5" stroke-dasharray="5,3"/>
<polygon points="1306,1032 1318,1032 1312,1042" fill="#3a4a6a"/>
<path d="M1150,1062 C1148,1052 1160,1048 1172,1054 C1180,1058 1186,1054 1194,1060 C1200,1068 1194,1078 1184,1076 C1176,1074 1168,1080 1158,1078 C1150,1076 1150,1068 1150,1062 Z" fill="#fff" stroke="#8a6a3a" stroke-width="2"/>
<path d="M1150,1088 C1148,1076 1160,1072 1168,1078 C1174,1082 1180,1078 1188,1084 C1196,1092 1192,1106 1180,1106 C1170,1106 1160,1104 1154,1100 C1150,1096 1150,1092 1150,1088 Z" fill="#e07b8a" stroke="#8a6a3a" stroke-width="2"/>
<path d="M1275,1058 C1275,1046 1292,1040 1308,1048 C1320,1054 1330,1046 1342,1040 C1352,1038 1356,1050 1350,1058 C1342,1066 1330,1068 1318,1072 C1300,1078 1280,1072 1275,1058 Z" fill="#fff" stroke="#8a6a3a" stroke-width="2"/>
<path d="M1280,1100 C1276,1086 1296,1076 1312,1082 C1322,1086 1330,1076 1342,1075 C1356,1076 1356,1092 1348,1102 C1336,1116 1310,1118 1296,1114 C1286,1110 1282,1106 1280,1100 Z" fill="#e07b8a" stroke="#8a6a3a" stroke-width="2"/>

<!-- watermark -->
<g opacity="0.55">
<ellipse cx="876" cy="1071" rx="16" ry="14" fill="#b4b4b4"/>
<ellipse cx="896" cy="1082" rx="13" ry="11" fill="#a8a8a8" stroke="#fff" stroke-width="1.5"/>
<circle cx="870" cy="1068" r="2" fill="#fff"/><circle cx="882" cy="1068" r="2" fill="#fff"/>
<text x="924" y="1093" font-size="40" fill="#9a9a9a" font-family="Noto Sans CJK SC, sans-serif">公众号 · 植物科学最前沿</text>
</g>
</svg>
</body></html>
